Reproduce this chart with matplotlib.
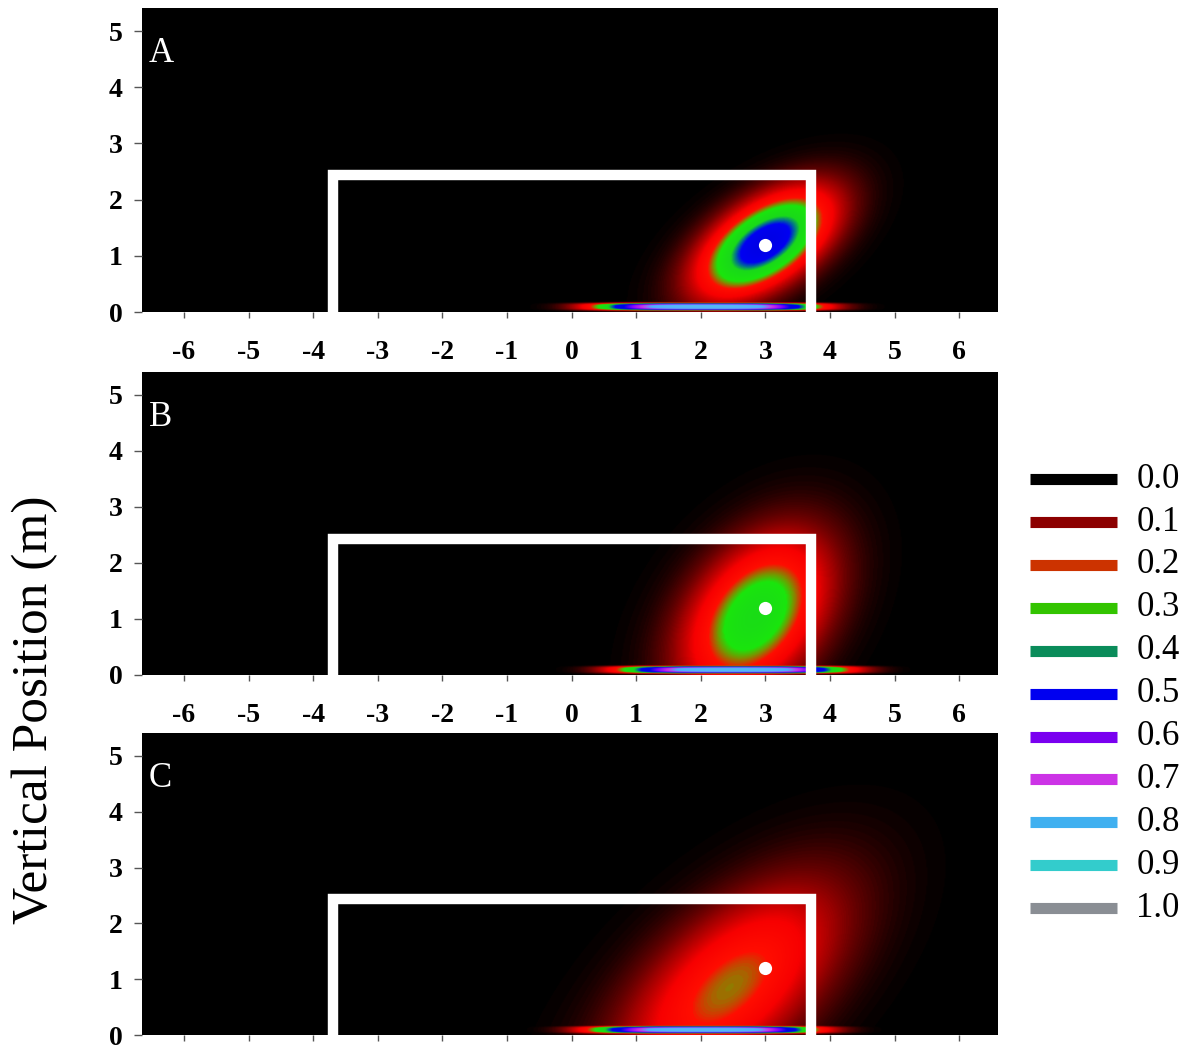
import numpy as np
import matplotlib.pyplot as plt
from matplotlib.colors import LinearSegmentedColormap

# panel labels
panels = ["A", "B", "C"]

# 2-D ball-position density per panel (peak, centre, spread, correlation)
peak = [0.56, 0.38, 0.27]
centre_x = [3.0, 2.85, 2.45]
centre_y = [1.22, 1.05, 0.85]
sigma_x = [0.68, 0.75, 1.15]
sigma_y = [0.62, 0.95, 1.25]
rho = [0.55, 0.4, 0.6]

# ground-level band per panel (peak, centre, half-width)
band_peak = [0.82, 0.82, 0.82]
band_x = [2.1, 2.5, 2.05]
band_w = [1.7, 1.7, 1.7]
band_y = 0.09
band_sy = 0.065

# target point and goal frame
target_x = 3.0
target_y = 1.2
goal_x = [-3.7, -3.7, 3.7, 3.7]
goal_y = [0.0, 2.43, 2.43, 0.0]

# legend
legend_values = ["0.0", "0.1", "0.2", "0.3", "0.4", "0.5", "0.6", "0.7", "0.8", "0.9", "1.0"]
legend_colors = ["#000000", "#8c0000", "#cc3300", "#33c400", "#0a8c5a", "#0000f0",
                 "#7a00f0", "#cc33e6", "#40b0f0", "#33cccc", "#8a8e94"]

x_ticks = [-6, -5, -4, -3, -2, -1, 0, 1, 2, 3, 4, 5, 6]
y_ticks = [0, 1, 2, 3, 4, 5]

cmap = LinearSegmentedColormap.from_list("prob", [
    (0.0, (0, 0, 0)),
    (0.04, (0.27, 0, 0)),
    (0.1, (0.62, 0, 0)),
    (0.17, (0.97, 0, 0)),
    (0.235, (1.0, 0.05, 0)),
    (0.28, (0.45, 0.6, 0.0)),
    (0.31, (0.1, 0.9, 0.05)),
    (0.41, (0.1, 0.85, 0.1)),
    (0.45, (0.0, 0.4, 0.6)),
    (0.48, (0.0, 0.0, 0.95)),
    (0.56, (0.0, 0.0, 0.9)),
    (0.63, (0.5, 0.0, 1.0)),
    (0.7, (0.8, 0.2, 0.9)),
    (0.75, (0.3, 0.68, 1.0)),
    (0.86, (0.35, 0.75, 0.95)),
    (0.93, (0.2, 0.8, 0.8)),
    (1.0, (0.55, 0.57, 0.6)),
])

xlim = (-6.65, 6.6)
ylim = (0, 5.41)

plt.rcParams["font.family"] = ["Liberation Serif", "DejaVu Serif"]
plt.rcParams["axes.unicode_minus"] = False

fig = plt.figure(figsize=(11.96, 10.46), dpi=100)

axes_boxes = [
    [0.1187, 0.7017, 0.7157, 0.2906],
    [0.1187, 0.3547, 0.7157, 0.2897],
    [0.1187, 0.0105, 0.7157, 0.2887],
]

gx = np.linspace(xlim[0], xlim[1], 800)
gy = np.linspace(ylim[0], ylim[1], 600)
X, Y = np.meshgrid(gx, gy)

for i, label in enumerate(panels):
    ax = fig.add_axes(axes_boxes[i])
    ax.set_facecolor("black")

    dx = (X - centre_x[i]) / sigma_x[i]
    dy = (Y - centre_y[i]) / sigma_y[i]
    q = (dx ** 2 - 2 * rho[i] * dx * dy + dy ** 2) / (1 - rho[i] ** 2)
    field = peak[i] * np.exp(-0.5 * q)

    bx = np.abs(X - band_x[i]) / band_w[i]
    by = np.abs(Y - band_y) / band_sy
    band = band_peak[i] * np.exp(-bx ** 3.5) * np.exp(-by ** 4)
    z = np.maximum(field, band)

    ax.imshow(z, extent=[xlim[0], xlim[1], ylim[0], ylim[1]], origin="lower",
              cmap=cmap, vmin=0, vmax=1, aspect="auto", interpolation="bilinear")

    ax.plot(goal_x, goal_y, color="white", lw=7.5, solid_joinstyle="miter",
            solid_capstyle="butt")
    ax.plot([target_x], [target_y], "o", color="white", ms=9.5, mec="none")

    ax.text(0.008, 0.905, label, transform=ax.transAxes, color="white",
            fontsize=25, va="top", ha="left")

    ax.set_xlim(xlim)
    ax.set_ylim(ylim)
    ax.set_xticks(x_ticks)
    ax.set_yticks(y_ticks)
    ax.tick_params(axis="x", length=4, width=1, color="#555555", pad=16, labelsize=20)
    ax.tick_params(axis="y", length=6, width=1, color="#555555", pad=8, labelsize=20)
    if i == len(panels) - 1:
        ax.tick_params(axis="x", labelbottom=False)
    for t in ax.get_xticklabels() + ax.get_yticklabels():
        t.set_fontweight("bold")
    for s in ax.spines.values():
        s.set_visible(False)

fig.text(35 / 1196, 1 - 710 / 1046, "Vertical Position (m)", rotation=90,
         fontsize=37, ha="center", va="center")

# legend drawn as a column of colour bars
lax = fig.add_axes([0.853, 0.111, 0.147, 0.449])
lax.set_xlim(0, 1)
lax.set_ylim(10.51, -0.443)
lax.axis("off")
for i, (val, col) in enumerate(zip(legend_values, legend_colors)):
    lax.plot([0.057, 0.551], [i, i], color=col, lw=8, solid_capstyle="butt")
    lax.text(0.66, i, val, fontsize=25, va="center", ha="left")

fig.savefig("out.png", dpi=100)
plt.close(fig)
